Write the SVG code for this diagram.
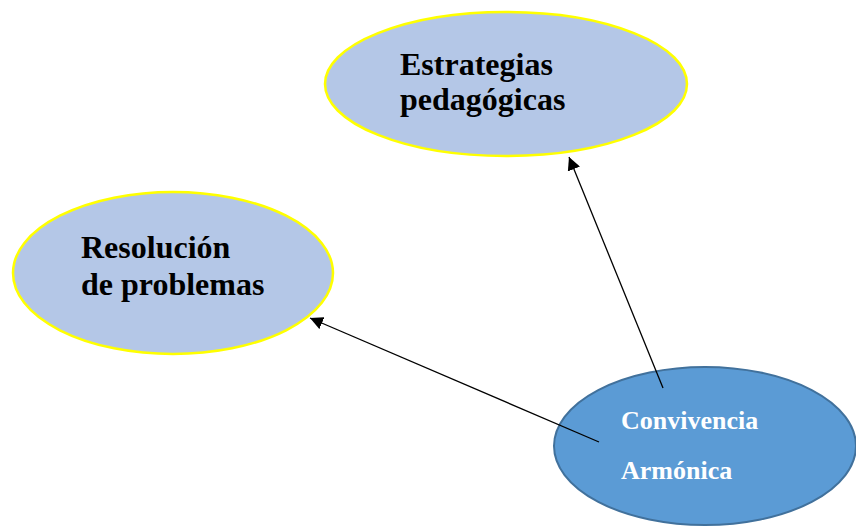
<svg xmlns="http://www.w3.org/2000/svg" width="856" height="532" viewBox="0 0 856 532">
<defs>
<style>
.light{fill:#b4c7e7;stroke:#ffff00;stroke-width:2.5}
.dark{fill:#5b9bd5;stroke:#41719c;stroke-width:2}
.t{font-family:"Liberation Serif","Times New Roman",serif;font-weight:bold;font-size:32px;fill:#000}
.tw{font-family:"Liberation Serif","Times New Roman",serif;font-weight:bold;font-size:26px;fill:#fff}
.c{stroke:#000;stroke-width:1.3;fill:none;marker-end:url(#ah)}
</style>
<marker id="ah" viewBox="0 0 10 10" refX="10" refY="5" markerWidth="13" markerHeight="13" markerUnits="userSpaceOnUse" orient="auto">
<path d="M0,0 L10,5 L0,10 z" fill="#000"/>
</marker>
</defs>
<rect width="856" height="532" fill="#fff"/>
<g id="estrategias">
<ellipse class="light" cx="506" cy="84" rx="181" ry="72"/>
<text class="t" x="400" y="75">Estrategias</text>
<text class="t" x="400" y="110">pedagógicas</text>
</g>
<g id="resolucion">
<ellipse class="light" cx="173" cy="273" rx="160" ry="81"/>
<text class="t" x="81" y="258">Resolución</text>
<text class="t" x="81" y="295">de problemas</text>
</g>
<g id="convivencia">
<ellipse class="dark" cx="705" cy="446" rx="151" ry="79"/>
<text class="tw" x="621" y="429">Convivencia</text>
<text class="tw" x="621" y="479">Armónica</text>
</g>
<g id="connectors">
<line class="c" x1="663" y1="388" x2="569" y2="157"/>
<line class="c" x1="599" y1="442" x2="310" y2="318"/>
</g>
</svg>
